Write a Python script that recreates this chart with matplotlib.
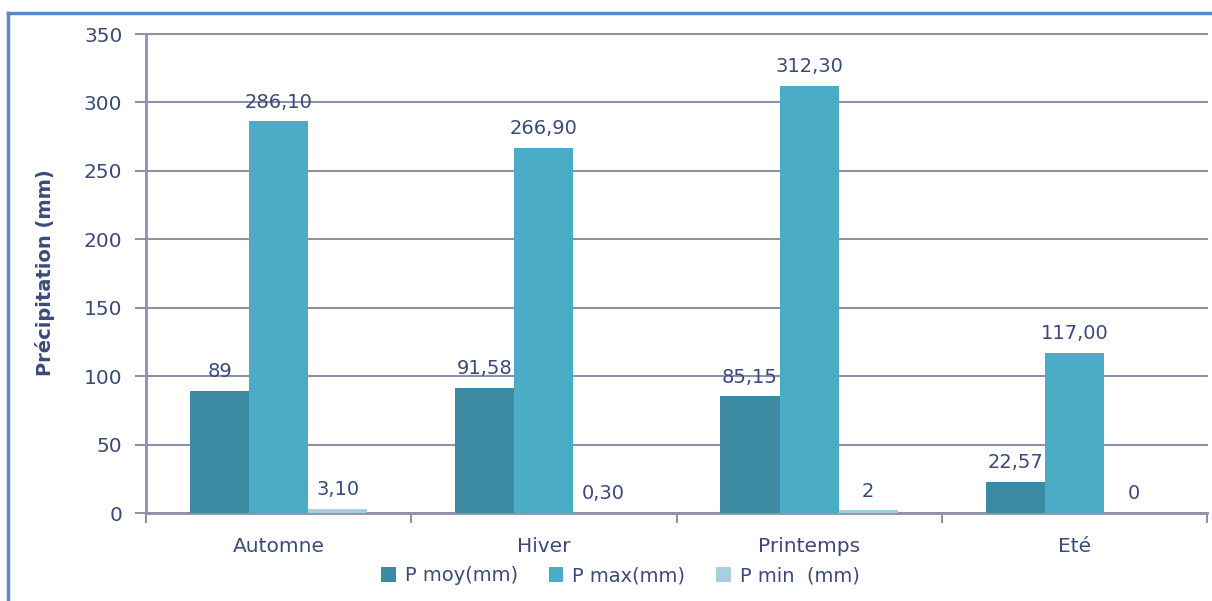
import matplotlib
matplotlib.use("Agg")
import matplotlib.pyplot as plt
import numpy as np
from matplotlib.lines import Line2D

seasons = ["Automne", "Hiver", "Printemps", "Eté"]
p_moy = [89, 91.58, 85.15, 22.57]
p_max = [286.10, 266.90, 312.30, 117.00]
p_min = [3.10, 0.30, 2, 0]
lbl_moy = ["89", "91,58", "85,15", "22,57"]
lbl_max = ["286,10", "266,90", "312,30", "117,00"]
lbl_min = ["3,10", "0,30", "2", "0"]
series_names = ["P moy(mm)", "P max(mm)", "P min  (mm)"]
y_ticks = [0, 50, 100, 150, 200, 250, 300, 350]

colors = ["#3C8AA1", "#4BACC6", "#A8CFDE"]
text_col = "#3B4A7A"
grid_col = "#8E91A8"

plt.rcParams['font.family'] = ['DejaVu Sans']

fig = plt.figure(figsize=(12.12, 6.01), dpi=100)
ax = fig.add_axes([0.1205, 0.1464, 0.8754, 0.797])

x = np.arange(len(seasons))
w = 0.223
series = [(p_moy, lbl_moy), (p_max, lbl_max), (p_min, lbl_min)]
for i, ((vals, lbls), c) in enumerate(zip(series, colors)):
    pos = x + (i - 1) * w
    ax.bar(pos, vals, width=w, color=c, zorder=3, label=series_names[i])
    for px, v, t in zip(pos, vals, lbls):
        ax.annotate(t, (px, v), xytext=(0, 7), textcoords="offset points",
                    ha="center", va="bottom", fontsize=14, color=text_col,
                    zorder=4)

ax.set_xlim(-0.5, len(seasons) - 0.5)
ax.set_ylim(0, 350)
ax.set_yticks(y_ticks)
ax.set_yticklabels([str(v) for v in y_ticks], fontsize=14.5, color=text_col)
ax.yaxis.grid(True, color=grid_col, linewidth=1.5, zorder=0)
for gl in ax.get_ygridlines():
    gl.set_clip_on(False)
ax.tick_params(axis="y", length=8, width=1.5, color=grid_col, pad=9)

ax.set_xticks(x)
ax.set_xticklabels(seasons, fontsize=14.5, color=text_col)
ax.tick_params(axis="x", length=0, pad=17)
ax.set_xticks(np.arange(-0.5, len(seasons)), minor=True)
ax.tick_params(axis="x", which="minor", length=7, width=1.5, color=grid_col)

for s in ["top", "right"]:
    ax.spines[s].set_visible(False)
for s in ["left", "bottom"]:
    ax.spines[s].set_color(grid_col)
    ax.spines[s].set_linewidth(2)

fig.text(0.037, 0.547, "Précipitation (mm)", rotation=90, fontsize=14,
         fontweight="bold", color=text_col, ha="center", va="center")

leg = ax.legend(loc="center", bbox_to_anchor=(0.447, -0.131), ncol=3,
                frameon=False, fontsize=14, handlelength=0.75,
                handleheight=0.75, columnspacing=1.6, handletextpad=0.45,
                borderpad=0)
for t in leg.get_texts():
    t.set_color(text_col)

# outer chart frame
frame_col = "#5B87C6"
fig.add_artist(Line2D([0.0066, 0.0066], [0.0, 0.979], color=frame_col,
                      linewidth=2.5, transform=fig.transFigure))
fig.add_artist(Line2D([0.0066, 1.0], [0.979, 0.979], color=frame_col,
                      linewidth=2.5, transform=fig.transFigure))

fig.savefig("out.png", dpi=100)
